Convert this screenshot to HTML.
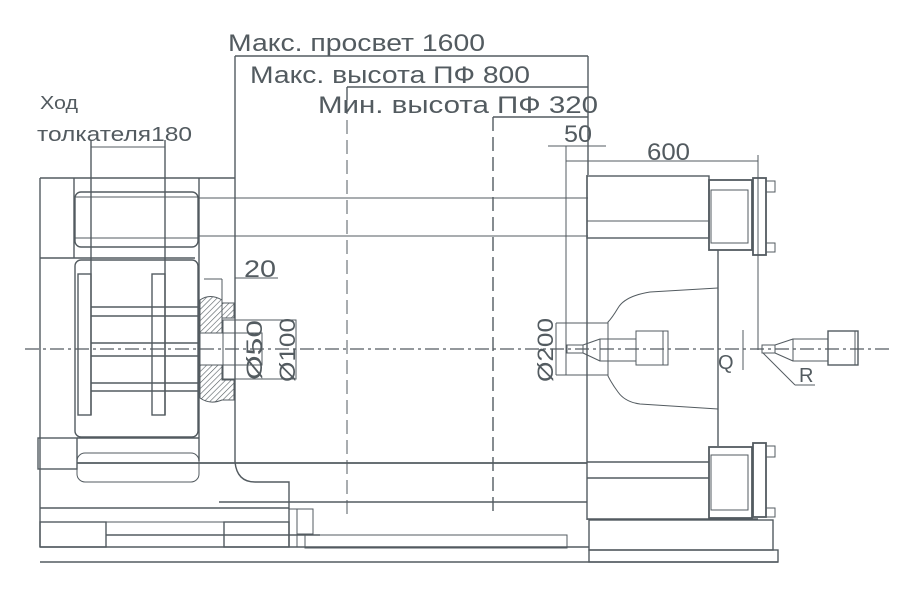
<!DOCTYPE html>
<html><head><meta charset="utf-8"><style>
html,body{margin:0;padding:0;background:#fff;}
svg{display:block;}
text{font-family:"Liberation Sans",sans-serif;fill:#535b60;}
</style></head><body>
<svg width="903" height="600" viewBox="0 0 903 600" xmlns="http://www.w3.org/2000/svg">
<defs>
<pattern id="h" width="4" height="4" patternUnits="userSpaceOnUse" patternTransform="rotate(45)">
<line x1="0" y1="0" x2="0" y2="4" stroke="#535b60" stroke-width="1.2"/>
</pattern>
</defs>
<g fill="none" stroke="#535b60" stroke-width="1.4">
<line x1="235" y1="56" x2="588" y2="56"/>
<line x1="347" y1="87" x2="588" y2="87"/>
<line x1="493" y1="117" x2="588" y2="117"/>
<line x1="235" y1="56" x2="235" y2="462"/>
<line x1="588" y1="56" x2="588" y2="175"/>
<line x1="347" y1="87" x2="347" y2="100"/>
<line x1="347" y1="100" x2="347" y2="515" stroke-dasharray="14,6" stroke-width="1"/>
<line x1="493" y1="117" x2="493" y2="515" stroke-dasharray="14,6" stroke-width="1.4"/>
<line x1="548" y1="146" x2="606" y2="146" stroke-width="1"/>
<line x1="566" y1="146" x2="566" y2="375" stroke-width="1"/>
<line x1="566" y1="161" x2="758" y2="161" stroke-width="1"/>
<line x1="758" y1="155" x2="758" y2="350" stroke-width="1"/>
<line x1="91" y1="147" x2="165" y2="147" stroke-width="1"/>
<line x1="91" y1="140" x2="91" y2="415"/>
<line x1="165" y1="140" x2="165" y2="415"/>
<line x1="40" y1="178" x2="235" y2="178"/>
<line x1="40" y1="178" x2="40" y2="547"/>
<line x1="74" y1="178" x2="74" y2="258"/>
<line x1="199" y1="178" x2="199" y2="461"/>
<line x1="40" y1="258" x2="195" y2="258"/>
<rect x="75" y="192" width="123" height="55" rx="6"/>
<line x1="75" y1="197" x2="198" y2="197" stroke-width="1"/>
<line x1="75" y1="238" x2="198" y2="238" stroke-width="1"/>
<line x1="199" y1="198" x2="588" y2="198" stroke-width="1"/>
<line x1="199" y1="236" x2="588" y2="236" stroke-width="1"/>
<rect x="75" y="260" width="123" height="177" rx="6"/>
<rect x="78" y="274" width="13" height="141"/>
<rect x="152" y="274" width="13" height="141"/>
<line x1="91" y1="307" x2="198" y2="307"/><line x1="91" y1="316" x2="198" y2="316"/>
<line x1="91" y1="343" x2="198" y2="343"/><line x1="91" y1="356" x2="198" y2="356"/>
<line x1="91" y1="383" x2="198" y2="383"/><line x1="91" y1="391" x2="198" y2="391"/>
<path d="M200 300 Q210 293 222 300 L222 303 L234 303 L234 318 L222 318 L222 333 L200 333 Z" fill="url(#h)" stroke-width="1"/>
<path d="M200 365 L222 365 L222 380 L234 380 L234 400 L222 400 Q210 405 200 398 Z" fill="url(#h)" stroke-width="1"/>
<rect x="200" y="333" width="62" height="32" stroke-width="1"/>
<rect x="223" y="320" width="73" height="59" stroke-width="1"/>
<line x1="204" y1="279" x2="222" y2="279" stroke-width="1"/>
<line x1="222" y1="279" x2="222" y2="333" stroke-width="1"/>
<line x1="235" y1="278" x2="278" y2="278" stroke-width="1"/>
<rect x="38" y="438" width="39" height="31"/>
<line x1="77" y1="438" x2="199" y2="438"/>
<rect x="77" y="453" width="122" height="29" rx="8" stroke-width="1"/>
<line x1="77" y1="463" x2="587" y2="463" stroke-width="1.8"/>
<path d="M235 462 Q237 482 255 482 L289 482 L289 547"/>
<line x1="219" y1="502" x2="587" y2="502" stroke-width="1.6"/>
<line x1="40" y1="508" x2="289" y2="508"/>
<line x1="40" y1="522" x2="289" y2="522" stroke-width="1"/>
<rect x="40" y="522" width="66" height="25"/>
<rect x="224" y="522" width="65" height="25"/>
<line x1="106" y1="535" x2="320" y2="535"/>
<rect x="289" y="509" width="8" height="38" stroke-width="1"/>
<rect x="297" y="509" width="16" height="25" stroke-width="1"/>
<rect x="305" y="535" width="262" height="13" stroke-width="1"/>
<line x1="40" y1="547" x2="589" y2="547"/>
<line x1="40" y1="562" x2="778" y2="562" stroke-width="1.6"/>
<line x1="587" y1="175" x2="587" y2="520"/>
<rect x="587" y="176" width="122" height="62"/>
<line x1="587" y1="221" x2="709" y2="221" stroke-width="1"/>
<rect x="709" y="180" width="43" height="70" stroke-width="1.8"/>
<rect x="711" y="190" width="37" height="53" stroke-width="1"/>
<rect x="753" y="178" width="13" height="77" stroke-width="1.8"/>
<rect x="766" y="181" width="9" height="11" stroke-width="1"/>
<rect x="766" y="243" width="9" height="9" stroke-width="1"/>
<line x1="718" y1="250" x2="718" y2="446"/>
<path d="M718 288 L650 292 Q625 296 618 308 Q612 318 608 322 L608 376 Q612 384 618 392 Q625 402 640 404 L718 409" stroke-width="1"/>
<line x1="556" y1="323" x2="608" y2="323" stroke-width="1"/>
<line x1="556" y1="375" x2="608" y2="375" stroke-width="1"/>
<line x1="556" y1="323" x2="556" y2="375" stroke-width="1"/>
<rect x="567" y="345" width="16" height="8" stroke-width="1"/>
<path d="M583 345 L600 339 M583 353 L600 361" stroke-width="1"/>
<rect x="600" y="339" width="36" height="22" stroke-width="1"/>
<rect x="636" y="331" width="32" height="34" stroke-width="1"/>
<line x1="663" y1="331" x2="663" y2="365" stroke-width="1"/>
<rect x="762" y="345" width="13" height="8" stroke-width="1"/>
<path d="M775 345 L793 339 M775 353 L793 361" stroke-width="1"/>
<rect x="793" y="339" width="35" height="22" stroke-width="1"/>
<rect x="828" y="331" width="30" height="34" stroke-width="1.4"/>
<line x1="855" y1="331" x2="855" y2="365" stroke-width="1"/>
<line x1="743" y1="330" x2="743" y2="370" stroke-width="1"/>
<line x1="763" y1="353" x2="795" y2="385" stroke-width="1"/>
<line x1="795" y1="385" x2="815" y2="385" stroke-width="1"/>
<line x1="587" y1="462" x2="709" y2="462"/>
<line x1="587" y1="478" x2="709" y2="478" stroke-width="1.6"/>
<rect x="709" y="447" width="43" height="71" stroke-width="1.8"/>
<rect x="711" y="455" width="37" height="55" stroke-width="1"/>
<rect x="753" y="443" width="13" height="74" stroke-width="1.8"/>
<rect x="766" y="446" width="9" height="11" stroke-width="1"/>
<rect x="766" y="508" width="9" height="9" stroke-width="1"/>
<line x1="587" y1="519" x2="758" y2="519"/>
<rect x="589" y="520" width="184" height="30"/>
<rect x="589" y="550" width="189" height="12"/>
<line x1="25" y1="349" x2="890" y2="349" stroke-width="1.2" stroke-dasharray="14,4,3,4"/>
</g>
<g font-size="24">
<text x="228" y="51" textLength="257" lengthAdjust="spacingAndGlyphs">Макс. просвет 1600</text>
<text x="250" y="83" textLength="280" lengthAdjust="spacingAndGlyphs">Макс. высота ПФ 800</text>
<text x="318" y="113" textLength="280" lengthAdjust="spacingAndGlyphs">Мин. высота ПФ  320</text>
<text x="564" y="142" textLength="28" lengthAdjust="spacingAndGlyphs">50</text>
<text x="647" y="160" textLength="43" lengthAdjust="spacingAndGlyphs">600</text>
<text x="244" y="277" textLength="32" lengthAdjust="spacingAndGlyphs">20</text>
</g>
<text x="40" y="109" font-size="18" textLength="38" lengthAdjust="spacingAndGlyphs">Ход</text>
<text x="37" y="141" font-size="20" textLength="155" lengthAdjust="spacingAndGlyphs">толкателя180</text>
<text x="718" y="369" font-size="20">Q</text>
<text x="799" y="382" font-size="20">R</text>
<g font-size="22">
<text transform="translate(262,380) rotate(-90)" textLength="60" lengthAdjust="spacingAndGlyphs">Ø50</text>
<text transform="translate(295,382) rotate(-90)" textLength="64" lengthAdjust="spacingAndGlyphs">Ø100</text>
<text transform="translate(553,382) rotate(-90)" textLength="64" lengthAdjust="spacingAndGlyphs">Ø200</text>
</g>
</svg>
</body></html>
